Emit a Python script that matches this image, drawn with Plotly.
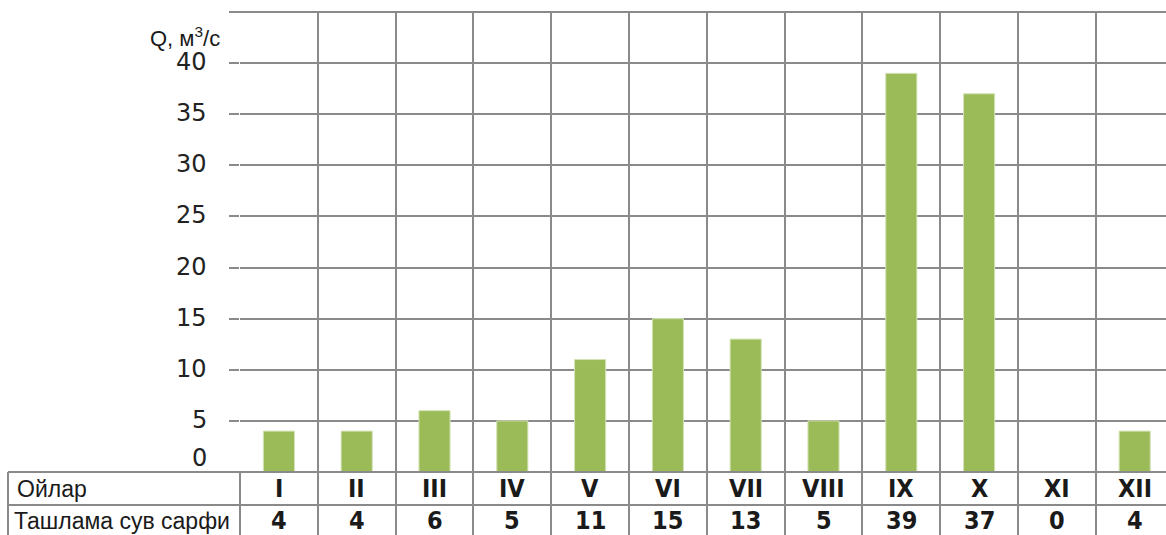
import plotly.graph_objects as go

# Monthly discharge data
months = ["I", "II", "III", "IV", "V", "VI", "VII", "VIII", "IX", "X", "XI", "XII"]
discharge = [4, 4, 6, 5, 11, 15, 13, 5, 39, 37, 0, 4]
y_ticks = [0, 5, 10, 15, 20, 25, 30, 35, 40]
row_header = "Ойлар"
value_header = "Ташлама сув сарфи"
y_title = "Q, м<sup>3</sup>/с"

W, H = 1166, 535
ML, MT, MB = 240, 12, 63
plot_w = W - ML
plot_h = H - MT - MB

grid_col = "#8a8a8a"
bar_col = "#9bbb59"
text_col = "#1a1a1a"

# the last column runs slightly past the right edge
col_px = 77.8
x_range = [-0.5, -0.5 + plot_w / col_px]


def px_x(px):
    return (px - ML) / plot_w


def px_y(px):
    return (MT + plot_h - px) / plot_h


fig = go.Figure()
fig.add_trace(go.Bar(
    x=months, y=discharge, width=0.4,
    marker=dict(color=bar_col, line=dict(color="#d4e3b5", width=1)),
    hoverinfo="x+y",
))

fig.update_layout(
    width=W, height=H,
    margin=dict(l=ML, r=0, t=MT, b=MB, pad=0),
    paper_bgcolor="white", plot_bgcolor="white",
    showlegend=False,
    font=dict(family="Liberation Sans, Arial, sans-serif", color=text_col),
    xaxis=dict(
        type="category", range=x_range, tickson="boundaries",
        showgrid=True, gridcolor=grid_col, gridwidth=2,
        ticks="outside", ticklen=MB, tickwidth=2, tickcolor=grid_col,
        showticklabels=False, showline=False, zeroline=False, fixedrange=True,
    ),
    yaxis=dict(
        range=[0, 45], tickmode="linear", tick0=0, dtick=5,
        showgrid=True, gridcolor=grid_col, gridwidth=2,
        ticks="outside", ticklen=10, tickwidth=2, tickcolor=grid_col,
        showticklabels=False, showline=False, zeroline=False, fixedrange=True,
    ),
    bargap=0.6,
)

line = dict(color=grid_col, width=2)
# top border of the chart area
fig.add_shape(type="line", xref="paper", yref="paper",
              x0=px_x(230), x1=1, y0=1, y1=1, line=line)
# table borders: top, row separator, left edge
fig.add_shape(type="line", xref="paper", yref="paper",
              x0=px_x(8), x1=1, y0=0, y1=0, line=line)
fig.add_shape(type="line", xref="paper", yref="paper",
              x0=px_x(8), x1=1, y0=px_y(505), y1=px_y(505), line=line)
fig.add_shape(type="line", xref="paper", yref="paper",
              x0=px_x(8), x1=px_x(8), y0=0, y1=px_y(H + 2), line=line)

# y tick labels
for t in y_ticks:
    fig.add_annotation(
        xref="paper", yref="y", x=px_x(209), y=t, text=str(t),
        xanchor="right", yanchor="middle", showarrow=False,
        yshift=14 if t == 0 else 1,
        font=dict(family="DejaVu Sans, Verdana, sans-serif", size=24, color="#222222"),
    )

# axis title
fig.add_annotation(
    xref="paper", yref="paper", x=px_x(222), y=px_y(37), text=y_title,
    xanchor="right", yanchor="middle", showarrow=False,
    font=dict(family="Liberation Sans, Arial, sans-serif", size=22, color=text_col),
)

# table row headers
fig.add_annotation(
    xref="paper", yref="paper", x=px_x(15), y=px_y(489), text=row_header,
    xanchor="left", yanchor="middle", showarrow=False,
    font=dict(family="Liberation Sans, Arial, sans-serif", size=23, color=text_col),
)
fig.add_annotation(
    xref="paper", yref="paper", x=px_x(12), y=px_y(521), text=value_header,
    xanchor="left", yanchor="middle", showarrow=False,
    font=dict(family="Liberation Sans, Arial, sans-serif", size=23, color=text_col),
)

narrow = dict(family="DejaVu Sans Condensed, Liberation Sans Narrow, Arial Narrow, sans-serif",
              size=25, color=text_col)
for m, v in zip(months, discharge):
    fig.add_annotation(xref="x", yref="paper", x=m, y=px_y(489), text=f"<b>{m}</b>",
                       xanchor="center", yanchor="middle", showarrow=False, font=narrow)
    fig.add_annotation(xref="x", yref="paper", x=m, y=px_y(520), text=f"<b>{v}</b>",
                       xanchor="center", yanchor="middle", showarrow=False, font=narrow)

fig.write_html("out.html")
